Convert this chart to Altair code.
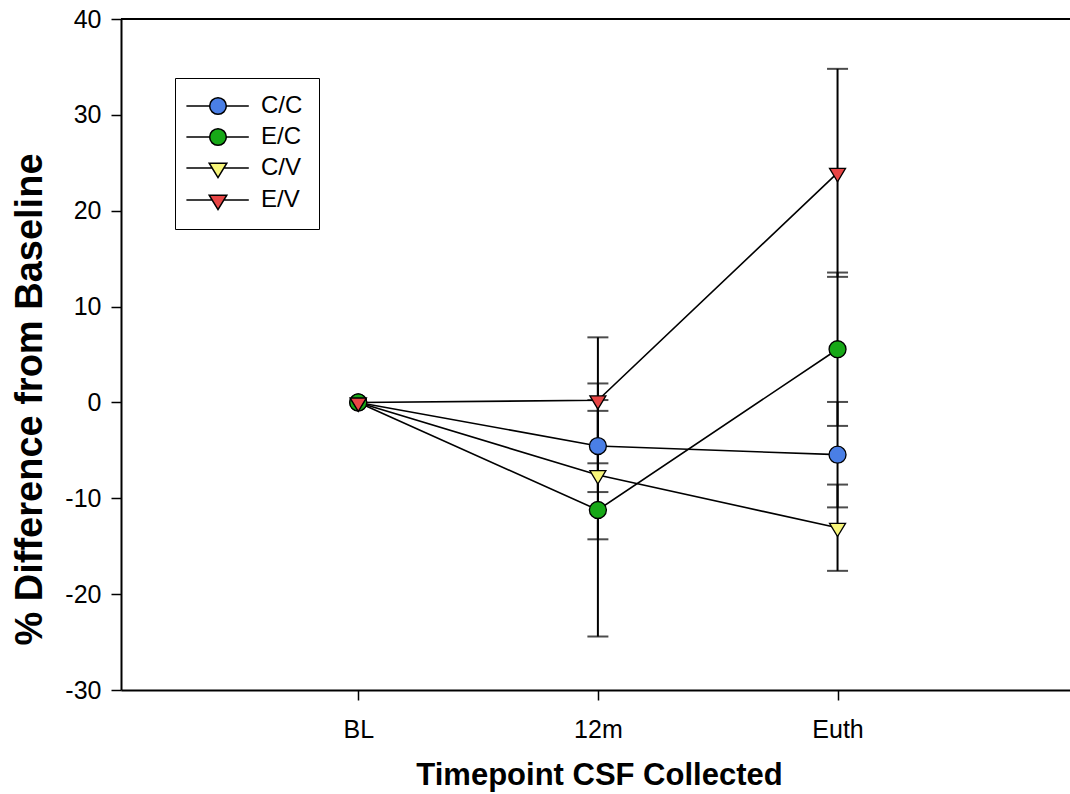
import json

import altair as alt
import pandas as pd

# Time points and treatment groups
timepoints = ["BL", "12m", "Euth"]
groups = ["C/C", "E/C", "C/V", "E/V"]
circle_groups = ["C/C", "E/C"]
triangle_groups = ["C/V", "E/V"]

# Mean % difference from baseline per group at each time point
cc_mean = [0.0, -4.55, -5.45]
ec_mean = [0.0, -11.22, 5.55]
cv_mean = [0.0, -7.58, -13.07]
ev_mean = [0.0, 0.22, 23.95]

# Error bar half-widths
cc_err = [0.0, 4.8, 5.5]
ec_err = [0.0, 13.2, 8.0]
cv_err = [0.0, 6.7, 4.5]
ev_err = [0.0, 6.57, 10.85]

fills = ["#4a7fe6", "#17a817", "#f7f57a", "#e84646"]

# Symbol outlines (unit box scaled by sqrt(size)/2)
circle_path = "M-1.06,0A1.06,1.06 0 1,0 1.06,0A1.06,1.06 0 1,0 -1.06,0Z"
tri_path = "M-1,-0.55L1,-0.55L0,1.11Z"

# Legend keys: the symbol with a short line through it
leg_circle = ("M-3.95,0L-1.04,0M1.04,0L3.85,0"
              "M-1.04,0A1.04,1.04 0 1,0 1.04,0A1.04,1.04 0 1,0 -1.04,0Z")
leg_tri = "M-3.95,0L-0.73,0M0.73,0L3.85,0M-1.1,-0.6L1.1,-0.6L0,1.2Z"
legend_paths = [leg_circle, leg_circle, leg_tri, leg_tri]

rows = []
for g, m, e in zip(groups, [cc_mean, ec_mean, cv_mean, ev_mean],
                   [cc_err, ec_err, cv_err, ev_err]):
    for i, (mv, ev) in enumerate(zip(m, e)):
        rows.append({"series": g, "tp": i, "mean": mv, "err": ev,
                     "lo": mv - ev, "hi": mv + ev})
df = pd.DataFrame(rows)
err_df = df[df["err"] > 0]

W, H = 949, 671
FONT = "Liberation Sans"

x_axis = alt.Axis(
    values=list(range(len(timepoints))),
    labelExpr=f"{json.dumps(timepoints)}[datum.value]",
    title="Timepoint CSF Collected",
    titleFontSize=31, titleFontWeight="bold", titleFont=FONT,
    titleX=478, titlePadding=18,
    labelFontSize=25, labelFont=FONT, labelPadding=17, labelColor="black",
    tickSize=10, tickWidth=1.5, tickColor="black",
    domainColor="black", domainWidth=2, grid=False,
)
y_axis = alt.Axis(
    values=list(range(-30, 41, 10)),
    labelExpr="toString(datum.value)",
    title="% Difference from Baseline",
    titleFontSize=38, titleFontWeight="bold", titleFont=FONT,
    titleY=380, titlePadding=15,
    labelFontSize=25, labelFont=FONT, labelPadding=10, labelColor="black",
    tickSize=10, tickWidth=1.5, tickColor="black",
    domainColor="black", domainWidth=2, grid=False,
)
x_scale = alt.Scale(domain=[-0.99, 2.97], nice=False, zero=False)
y_scale = alt.Scale(domain=[-30, 40], nice=False, zero=False)
fill_scale = alt.Scale(domain=groups, range=fills)


def X():
    return alt.X("tp:Q", scale=x_scale, axis=x_axis)


def Y(field):
    return alt.Y(f"{field}:Q", scale=y_scale, axis=y_axis)


leg = alt.Legend(
    title=None, orient="none", legendX=54, legendY=59,
    padding=16, rowPadding=7, symbolOffset=15, labelOffset=31,
    labelFontSize=24, labelFont=FONT, labelColor="black",
    strokeColor="black", fillColor="white",
    symbolSize=256, symbolStrokeColor="black", symbolStrokeWidth=1.5,
)

lines = alt.Chart(df).mark_line(color="black", strokeWidth=1.6).encode(
    x=X(), y=Y("mean"), detail="series:N"
)

bars = alt.Chart(err_df).mark_rule(color="black", strokeWidth=2).encode(
    x=X(), y=Y("lo"), y2="hi:Q"
)
caps_lo = alt.Chart(err_df).mark_tick(
    orient="horizontal", size=21, thickness=2, color="black"
).encode(x=X(), y=Y("lo"))
caps_hi = alt.Chart(err_df).mark_tick(
    orient="horizontal", size=21, thickness=2, color="black"
).encode(x=X(), y=Y("hi"))


def point_layer(members, path):
    return alt.Chart(df).transform_filter(
        alt.FieldOneOfPredicate(field="series", oneOf=members)
    ).mark_point(
        shape=path, filled=True, size=256, stroke="black", strokeWidth=1.3, opacity=1
    ).encode(
        x=X(), y=Y("mean"),
        fill=alt.Fill("series:N", scale=fill_scale, legend=leg),
    )


circles = point_layer(circle_groups, circle_path)
triangles = point_layer(triangle_groups, tri_path)

# Key entries only: no rows pass the filter, the scales carry the groups
legend_layer = alt.Chart(df).transform_filter("datum.mean > 1000").mark_point(
    filled=True, size=256, stroke="black", strokeWidth=1.5, opacity=1
).encode(
    x=X(), y=Y("mean"),
    shape=alt.Shape("series:N", scale=alt.Scale(domain=groups, range=legend_paths), legend=leg),
    fill=alt.Fill("series:N", scale=fill_scale, legend=leg),
)

top_line = alt.Chart(df).mark_rule(color="black", strokeWidth=2).encode(
    y=alt.datum(40), x=alt.value(0), x2=alt.value(W)
)

chart = (
    alt.layer(top_line, lines, bars, caps_lo, caps_hi, circles, triangles, legend_layer)
    .properties(
        width=W, height=H,
        autosize=alt.AutoSizeParams(type="none"),
        padding={"left": 121, "top": 19, "right": 0, "bottom": 104},
        background="white",
    )
    .configure_view(stroke=None)
)

chart.save("out.html", embed_options={"renderer": "svg", "actions": False})
